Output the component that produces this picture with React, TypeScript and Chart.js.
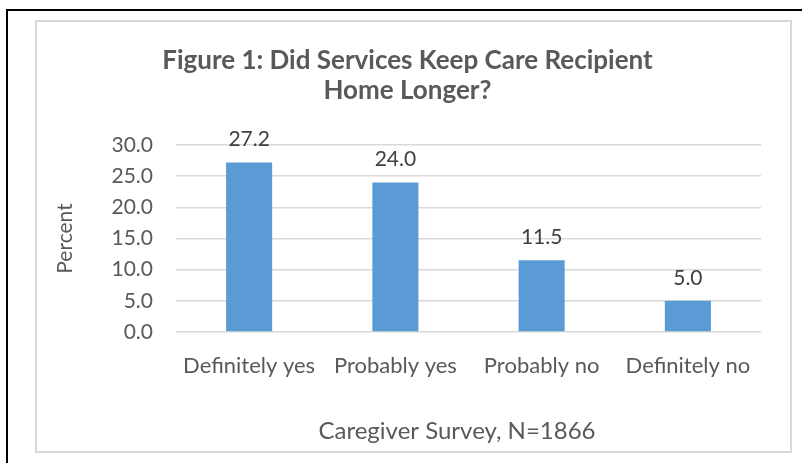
import React, { useEffect, useRef } from "react";
import { Chart, registerables } from "chart.js";

Chart.register(...registerables);

const categories = ["Definitely yes", "Probably yes", "Probably no", "Definitely no"];
const percentValues = [27.2, 24.0, 11.5, 5.0];
const titleLines = ["Figure 1: Did Services Keep Care Recipient", "Home Longer?"];
const yAxisTitle = "Percent";
const xAxisTitle = "Caregiver Survey, N=1866";

const FONT = "Lato, 'Open Sans', sans-serif";
const TEXT = "#595959";

const dataLabelPlugin = {
  id: "dataLabels",
  afterDatasetsDraw(chart: any) {
    const ctx = chart.ctx;
    const meta = chart.getDatasetMeta(0);
    ctx.save();
    ctx.font = `21px ${FONT}`;
    ctx.fillStyle = "#404040";
    ctx.textAlign = "center";
    ctx.textBaseline = "middle";
    meta.data.forEach((bar: any, i: number) => {
      ctx.fillText(percentValues[i].toFixed(1), bar.x, bar.y - 23);
    });
    ctx.restore();
  },
};

const xTitlePlugin = {
  id: "xTitle",
  afterDraw(chart: any) {
    const ctx = chart.ctx;
    ctx.save();
    ctx.font = `24px ${FONT}`;
    ctx.fillStyle = TEXT;
    ctx.textAlign = "center";
    ctx.textBaseline = "middle";
    ctx.fillText(xAxisTitle, 457, 431);
    ctx.restore();
  },
};

export default function App() {
  const ref = useRef<HTMLCanvasElement>(null);
  useEffect(() => {
    if (!ref.current) return;
    const chart = new Chart(ref.current, {
      type: "bar",
      data: {
        labels: categories,
        datasets: [
          {
            data: percentValues,
            backgroundColor: "#5b9bd5",
            borderWidth: 0,
            barPercentage: 0.315,
            categoryPercentage: 1,
          },
        ],
      },
      options: {
        animation: false,
        responsive: false,
        devicePixelRatio: 1,
        layout: { padding: { left: 54, right: 41, top: 0, bottom: 0 } },
        plugins: {
          legend: { display: false },
          tooltip: { enabled: false },
          title: {
            display: true,
            text: titleLines,
            color: TEXT,
            font: { family: FONT, size: 26, weight: "bold", lineHeight: 1.154 },
            padding: { top: 46, bottom: 39 },
          },
        },
        scales: {
          x: {
            grid: { display: false, drawTicks: false },
            border: { display: false },
            ticks: { color: TEXT, font: { family: FONT, size: 22 }, padding: 21 },
            afterFit(scale: any) {
              scale.height = 131;
            },
          },
          y: {
            min: 0,
            max: 30,
            ticks: {
              stepSize: 5,
              color: TEXT,
              font: { family: FONT, size: 21 },
              padding: 23,
              callback: (v: any) => Number(v).toFixed(1),
            },
            grid: { color: "#d9d9d9", lineWidth: 1.5, drawTicks: false },
            border: { display: false },
            title: {
              display: true,
              text: yAxisTitle,
              color: TEXT,
              font: { family: FONT, size: 21 },
              padding: { top: -1 },
            },
            afterFit(scale: any) {
              scale.width = 122;
            },
          },
        },
      },
      plugins: [dataLabelPlugin, xTitlePlugin],
    });
    return () => chart.destroy();
  }, []);

  return (
    <div
      style={{
        position: "fixed",
        left: 0,
        top: 0,
        width: 802,
        height: 463,
        overflow: "hidden",
        background: "#fff",
      }}
    >
      <div
        style={{
          position: "absolute",
          left: 6,
          top: 9,
          width: 900,
          height: 600,
          border: "2px solid #000",
        }}
      />
      <div
        style={{
          position: "absolute",
          left: 35,
          top: 20,
          width: 753,
          height: 429,
          border: "2px solid #d9d9d9",
          background: "#fff",
        }}
      />
      <canvas
        ref={ref}
        width={802}
        height={463}
        style={{ position: "absolute", left: 0, top: 0, width: 802, height: 463 }}
      />
    </div>
  );
}
